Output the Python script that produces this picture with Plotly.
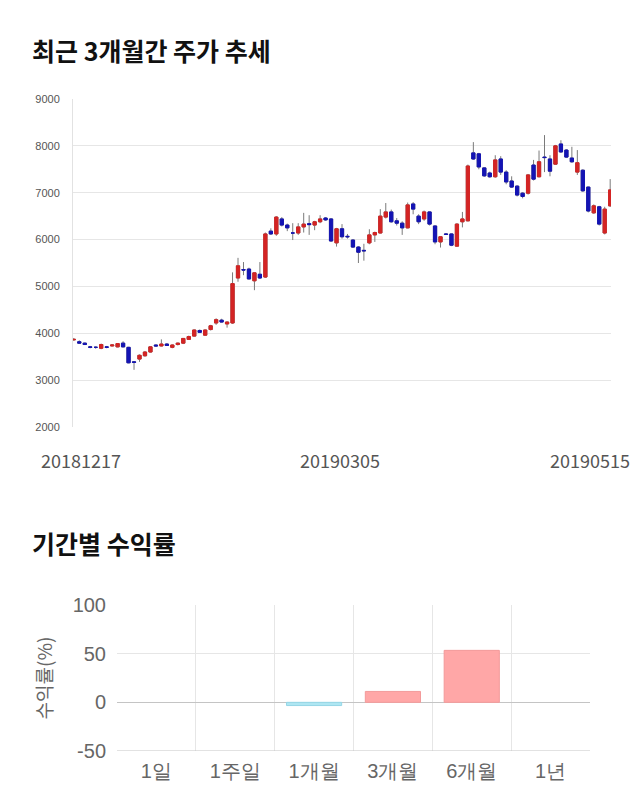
import plotly.graph_objects as go

# ---------------- data ----------------
months = {
    "201812": [17, 18, 19, 20, 21, 24, 26, 27, 28],
    "201901": [2, 3, 4, 7, 8, 9, 10, 11, 14, 15, 16, 17, 18, 21, 22, 23, 24, 25, 28, 29, 30, 31],
    "201902": [1, 7, 8, 11, 12, 13, 14, 15, 18, 19, 20, 21, 22, 25, 26, 27, 28],
    "201903": [4, 5, 6, 7, 8, 11, 12, 13, 14, 15, 18, 19, 20, 21, 22, 25, 26, 27, 28, 29],
    "201904": [1, 2, 3, 4, 5, 8, 9, 10, 11, 12, 15, 16, 17, 18, 19, 22, 23, 24, 25, 26, 29, 30],
    "201905": [2, 3, 7, 8, 9, 10, 13, 14, 15],
}
dates = [m + f"{d:02d}" for m, days in months.items() for d in days]

opens = [3860, 3820, 3790, 3710, 3700, 3680, 3710, 3730, 3710, 3790,
         3700, 3390, 3450, 3520, 3600, 3750, 3730, 3770, 3700, 3760,
         3790, 3870, 3940, 4060, 3960, 4080, 4220, 4280, 4200, 4220,
         5180, 5360, 5370, 5120, 5260, 5200, 6180, 6120, 6440, 6310,
         6140, 6140, 6270, 6340, 6310, 6380, 6460, 6440, 5930, 6230,
         6070, 5990, 5840, 5770, 5930, 6100, 6140, 6480, 6590, 6400,
         6350, 6250, 6760, 6500, 6440, 6590, 6290, 5950, 6120, 6120,
         5860, 6380, 6400, 7850, 7830, 7530, 7420, 7340, 7720, 7440,
         7250, 7140, 6990, 6990, 7590, 7340, 7760, 7720, 7610, 8040,
         7910, 7740, 7440, 7480, 7120, 6570, 6700, 6140, 6720]
highs = [3900, 3850, 3800, 3730, 3720, 3780, 3730, 3770, 3790, 3830,
         3710, 3400, 3550, 3620, 3720, 3760, 3870, 3790, 3760, 3800,
         3900, 3950, 4080, 4080, 4080, 4180, 4320, 4310, 4250, 5300,
         5610, 5520, 5400, 5300, 5520, 6150, 6240, 6500, 6480, 6340,
         6350, 6350, 6570, 6520, 6400, 6520, 6480, 6460, 6250, 6330,
         6120, 6010, 5860, 5910, 6220, 6170, 6650, 6780, 6640, 6460,
         6390, 6790, 6800, 6540, 6620, 6600, 6300, 6070, 6140, 6130,
         6350, 6590, 7600, 8080, 7850, 7540, 7450, 7800, 7780, 7480,
         7350, 7160, 7010, 7400, 7700, 7900, 8230, 7800, 8020, 8120,
         7930, 7980, 7910, 7500, 7130, 6750, 6720, 6700, 7290]
lows = [3840, 3780, 3750, 3680, 3670, 3660, 3680, 3720, 3700, 3700,
        3360, 3220, 3390, 3500, 3590, 3720, 3720, 3730, 3680, 3740,
        3770, 3860, 3930, 4010, 3950, 4060, 4180, 4230, 4120, 4200,
        5100, 5240, 5150, 4920, 5160, 5180, 6100, 6080, 6280, 6180,
        5990, 6100, 6150, 6100, 6200, 6350, 6400, 5950, 5850, 6020,
        6020, 5820, 5500, 5550, 5900, 5950, 6130, 6450, 6360, 6300,
        6100, 6240, 6540, 6330, 6400, 6300, 5900, 5830, 6100, 5860,
        5850, 6260, 6390, 7700, 7500, 7340, 7320, 7320, 7380, 7180,
        7100, 6920, 6880, 6960, 7260, 7330, 7440, 7350, 7600, 7850,
        7740, 7640, 7380, 7020, 6580, 6550, 6300, 6110, 6700]
closes = [3870, 3790, 3760, 3700, 3700, 3760, 3700, 3750, 3780, 3710,
          3370, 3380, 3530, 3600, 3710, 3730, 3770, 3740, 3750, 3790,
          3890, 3930, 4070, 4020, 4070, 4160, 4290, 4240, 4240, 5060,
          5440, 5350, 5160, 5290, 5180, 6120, 6120, 6480, 6310, 6250,
          6140, 6270, 6330, 6320, 6380, 6440, 6420, 5970, 6230, 6060,
          6060, 5840, 5730, 5760, 6100, 6150, 6500, 6590, 6380, 6350,
          6250, 6740, 6650, 6380, 6590, 6330, 5950, 6060, 6110, 5880,
          6330, 6440, 7570, 7720, 7550, 7360, 7340, 7700, 7440, 7230,
          7120, 6950, 6920, 7380, 7290, 7660, 7750, 7460, 8000, 7870,
          7760, 7660, 7640, 7040, 6610, 6720, 6330, 6650, 7060]

y_ticks = [2000, 3000, 4000, 5000, 6000, 7000, 8000, 9000]
date_labels = ["20181217", "20190305", "20190515"]

periods = ["1일", "1주일", "1개월", "3개월", "6개월", "1년"]
returns = [0, 0, -3.3, 11.2, 53.4, 0]
ret_ticks = [-50, 0, 50, 100]

# ---------------- figure ----------------
RED = "#d42424"
BLUE = "#1414b4"
WICK = "#7a7a7a"

body_hi = [max(o, c) for o, c in zip(opens, closes)]
body_lo = [min(o, c) for o, c in zip(opens, closes)]

fig = go.Figure()
# wicks (gray)
fig.add_trace(go.Candlestick(
    x=dates, open=opens, high=highs, low=lows, close=closes,
    increasing=dict(line=dict(color=WICK, width=1), fillcolor=WICK),
    decreasing=dict(line=dict(color=WICK, width=1), fillcolor=WICK),
    whiskerwidth=0, xaxis="x", yaxis="y", hoverinfo="skip", showlegend=False))
# bodies (colored)
fig.add_trace(go.Candlestick(
    x=dates, open=opens, high=body_hi, low=body_lo, close=closes,
    increasing=dict(line=dict(color=RED, width=1), fillcolor=RED),
    decreasing=dict(line=dict(color=BLUE, width=1), fillcolor=BLUE),
    whiskerwidth=0, xaxis="x", yaxis="y", showlegend=False))

bar_colors = ["#ffa7a7" if v >= 0 else "#aee6f2" for v in returns]
bar_lines = ["#f39a9a" if v >= 0 else "#95d6e6" for v in returns]
bar_lw = [1 if v != 0 else 0 for v in returns]
fig.add_trace(go.Bar(
    x=periods, y=returns, width=0.7,
    marker=dict(color=bar_colors, line=dict(color=bar_lines, width=bar_lw)),
    xaxis="x2", yaxis="y2", showlegend=False))

W, H = 640, 810
def px(v): return v / W
def py(v): return 1 - v / H

annotations = [
    dict(text="최근 3개월간 주가 추세", xref="paper", yref="paper",
         x=px(30), y=py(50), xanchor="left", yanchor="middle", showarrow=False,
         font=dict(family="Noto Sans CJK KR", size=25, color="#111111", weight="bold")),
    dict(text="기간별 수익률", xref="paper", yref="paper",
         x=px(30), y=py(543), xanchor="left", yanchor="middle", showarrow=False,
         font=dict(family="Noto Sans CJK KR", size=25, color="#111111", weight="bold")),
]
shifts = {date_labels[0]: 7, date_labels[1]: -2, date_labels[2]: -20}
for d in date_labels:
    annotations.append(dict(text=d, xref="x", yref="paper", x=dates.index(d), y=py(460),
                            xanchor="center", yanchor="middle", showarrow=False,
                            xshift=shifts[d],
                            font=dict(family="Noto Sans CJK KR", size=18, color="#555555")))

fig.update_layout(
    width=W, height=H,
    margin=dict(l=0, r=0, t=0, b=0, pad=0, autoexpand=False),
    paper_bgcolor="white", plot_bgcolor="white",
    showlegend=False,
    boxgap=0.15,
    annotations=annotations,
    xaxis=dict(domain=[px(73), px(611)], anchor="y", type="category",
               range=[-0.15, len(dates) - 0.85],
               showgrid=False, showticklabels=False, ticks="",
               rangeslider=dict(visible=False), zeroline=False, showline=False),
    yaxis=dict(domain=[py(427), py(99)], anchor="x", range=[2000, 9000],
               tickvals=y_ticks, gridcolor="#e6e6e6", gridwidth=1,
               showline=True, linecolor="#e2e2e2", zeroline=False,
               tickfont=dict(family="Liberation Sans", size=11, color="#555555"),
               ticklabelstandoff=10),
    xaxis2=dict(domain=[px(117), px(590)], anchor="y2", type="category",
                tickson="boundaries", showgrid=True, gridcolor="#e6e6e6",
                ticks="", showline=False, zeroline=False,
                tickfont=dict(family="Liberation Sans", size=20, color="#666666"),
                ticklabelstandoff=6),
    yaxis2=dict(domain=[py(751), py(605)], anchor="x2", range=[-50, 100],
                tickvals=ret_ticks, ticktext=[str(v) for v in ret_ticks],
                gridcolor="#e6e6e6",
                zeroline=True, zerolinecolor="#c4c4c4", zerolinewidth=1,
                showline=False,
                tickfont=dict(family="Liberation Sans", size=20, color="#666666"),
                ticklabelstandoff=10,
                title=dict(text="수익률(%)", standoff=14,
                           font=dict(family="Noto Sans CJK KR", size=19, color="#666666"))),
)
# darker bottom line of the returns chart
fig.add_shape(type="line", xref="x2 domain", yref="y2", x0=0, x1=1, y0=-50, y1=-50,
              line=dict(color="#c4c4c4", width=1))

fig.write_html("out.html")
